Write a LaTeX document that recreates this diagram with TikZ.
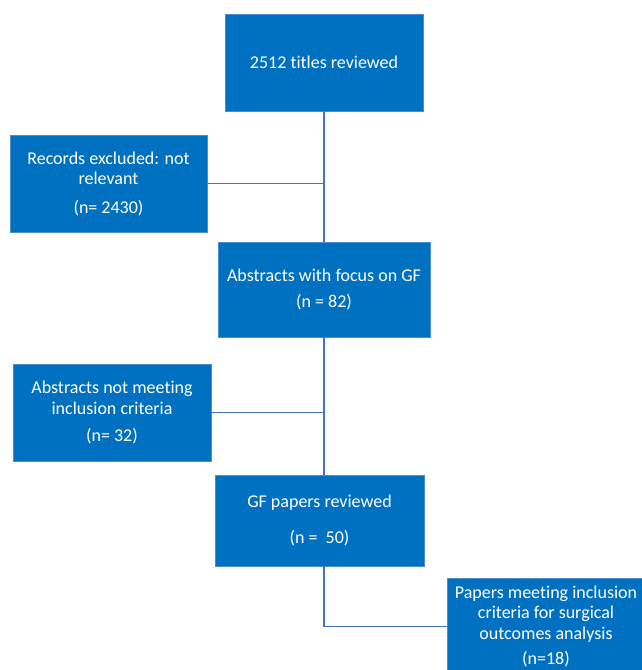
\documentclass[tikz,border=0pt]{standalone}
\usepackage{fontspec}
\setmainfont{Carlito}[Ligatures=NoCommon]
\definecolor{boxblue}{RGB}{0,112,192}
\definecolor{boxedge}{RGB}{80,140,205}
\definecolor{linkblue}{RGB}{68,114,196}
\begin{document}
\begin{tikzpicture}[x=1pt,y=-1pt,
  flowbox/.style={rectangle, fill=boxblue, draw=boxedge, line width=0.8pt,
    text=white, align=center, inner sep=0pt,
    font=\fontsize{18}{20.5}\selectfont},
  link/.style={draw=linkblue, line width=1.6pt}]
\useasboundingbox (0,0) rectangle (642,670);
\node[flowbox, minimum width=198pt, minimum height=97pt] (b1) at (324,62.5) {2512 titles reviewed};
\node[flowbox, minimum width=197pt, minimum height=97pt] (b2) at (108.5,183.5) {Records excluded: not\\relevant\\[8pt](n= 2430)};
\node[flowbox, minimum width=212pt, minimum height=95pt] (b3) at (324,289.5) {Abstracts with focus on GF\\[6pt](n = 82)};
\node[flowbox, minimum width=198pt, minimum height=97pt] (b4) at (112,412.5) {Abstracts not meeting\\inclusion criteria\\[7pt](n= 32)};
\node[flowbox, minimum width=209pt, minimum height=91pt] (b5) at (319.5,520.5) {GF papers reviewed\\[16pt](n =\ \ 50)};
\node[flowbox, minimum width=198pt, minimum height=97pt] (b6) at (546,626.5) {Papers meeting inclusion\\criteria for surgical\\outcomes analysis\\[5pt](n=18)};
\coordinate (t5) at (b5.south -| b1.south);
\coordinate (k6) at (b6.west -| b1.south);
\draw[link] (b1.south) -- (b3.north);
\draw[link] (b2.east) -- (b2.east -| b1.south);
\draw[link] (b3.south) -- (b3.south |- b5.north);
\draw[link] (b4.east) -- (b4.east -| b1.south);
\draw[link] (t5) -- (k6) -- (b6.west);
\end{tikzpicture}
\end{document}
